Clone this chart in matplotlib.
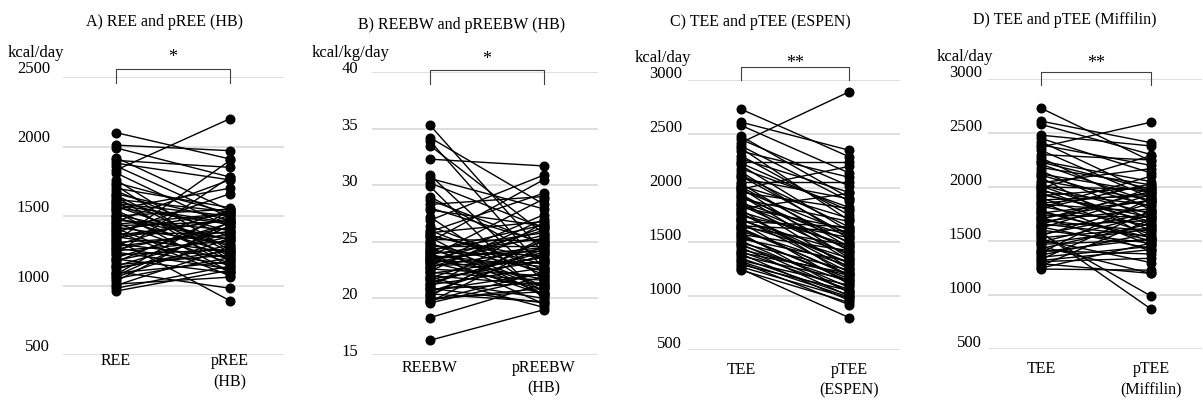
import matplotlib
matplotlib.use("Agg")
import matplotlib.pyplot as plt
from matplotlib.transforms import ScaledTranslation

plt.rcParams['font.family'] = ['Liberation Serif', 'DejaVu Serif']

W, H = 1203, 401

# ---- data (one entry per subject) ----
REE = [2100, 2010, 1990, 1920, 1900, 1880, 1860, 1830, 1810, 1760, 1740, 1720, 1700, 1680,
       1660, 1640, 1620, 1610, 1600, 1590, 1570, 1560, 1550, 1530, 1510, 1500, 1490, 1470,
       1460, 1450, 1430, 1420, 1400, 1390, 1380, 1370, 1350, 1340, 1330, 1310, 1300, 1290,
       1270, 1260, 1250, 1230, 1220, 1200, 1190, 1170, 1150, 1140, 1120, 1100, 1090, 1080,
       1060, 1050, 1030, 1010, 1000, 980, 960, 1320,
       1650, 1580, 1540, 1480, 1440, 1410, 1360, 1280, 1240, 1180, 1130, 1070]
pREE_HB = [1910, 1970, 1780, 1540, 1850, 1760, 1490, 2200, 1420, 1250, 1520, 1180, 1560, 1350,
           1470, 1130, 1530, 1390, 1210, 1500, 1280, 1440, 1700, 1100, 1330, 1550, 1230, 1400,
           1760, 1160, 1460, 1300, 1520, 1070, 1660, 1380, 1240, 1480, 890, 1360, 1200, 1540,
           1150, 1420, 1320, 1780, 1260, 1450, 1090, 1510, 1220, 1380, 1290, 980, 1170, 1540,
           1340, 1200, 1460, 1060, 1270, 1140, 1110, 1900,
           1240, 1450, 1180, 1330, 1520, 1100, 1470, 1390, 1120, 1350, 1250, 1430]

REEBW = [35.3, 34.2, 33.9, 33.5, 32.3, 30.9, 30.6, 30.2, 29.9, 29.0, 28.7, 28.3, 27.2, 26.9,
         26.0, 25.8, 25.6, 25.4, 25.2, 25.0, 24.8, 24.6, 24.4, 24.2, 24.1, 24.0, 23.9, 23.8,
         23.7, 23.6, 23.5, 23.4, 23.3, 23.2, 23.0, 22.8, 22.6, 22.4, 22.2, 22.0, 21.8, 21.6,
         21.4, 21.2, 21.0, 20.8, 20.6, 20.4, 20.2, 20.0, 19.8, 19.7, 19.6, 18.3, 16.3, 25.9,
         24.5, 23.1, 22.9, 21.9, 27.8, 28.0, 26.4, 20.9,
         25.5, 24.9, 24.3, 23.75, 23.45, 22.7, 22.3, 21.7, 21.3, 20.7, 20.3, 19.9]
pREEBW_HB = [24.0, 28.3, 22.6, 25.7, 31.7, 21.5, 27.9, 26.2, 19.9, 23.4, 24.8, 29.0, 20.5, 30.9,
             22.1, 26.8, 23.0, 20.2, 25.1, 30.5, 22.4, 24.6, 21.0, 26.5, 23.8, 19.5, 25.3, 22.8,
             28.8, 24.2, 21.7, 26.0, 23.1, 20.8, 25.6, 24.4, 22.0, 27.0, 23.6, 21.2, 25.0, 20.0,
             24.1, 22.7, 26.7, 21.4, 23.9, 19.7, 25.4, 20.6, 22.3, 24.7, 21.9, 21.3, 19.0, 29.3,
             20.4, 27.4, 23.2, 19.2, 26.4, 24.9, 22.5, 19.6,
             23.5, 21.1, 25.8, 20.3, 24.5, 26.3, 21.6, 23.3, 24.3, 22.2, 25.2, 20.9]

TEE = [2730, 2610, 2580, 2480, 2450, 2420, 2390, 2370, 2340, 2300, 2270, 2240, 2210, 2180,
       2150, 2120, 2090, 2060, 2040, 2020, 2000, 1980, 1960, 1940, 1920, 1900, 1880, 1860,
       1840, 1820, 1800, 1780, 1760, 1740, 1720, 1700, 1690, 1680, 1660, 1640, 1620, 1600,
       1580, 1570, 1550, 1530, 1510, 1490, 1470, 1450, 1430, 1410, 1390, 1370, 1350, 1330,
       1310, 1290, 1270, 1250, 1240, 1990, 1810, 1650,
       2230, 2110, 2010, 1930, 1850, 1770, 1710, 1630, 1560, 1480, 1400, 1320]
pTEE_ESPEN = [2290, 2350, 2140, 1910, 2020, 2890, 1880, 1700, 2100, 1750, 1960, 2240, 1600, 1820,
              1530, 1640, 1900, 2060, 1450, 1720, 1350, 1580, 1810, 1420, 1500, 1690, 1260, 1560,
              1380, 1620, 1180, 1470, 1300, 1540, 1220, 1400, 1640, 1110, 1350, 1470, 1200, 1280,
              1030, 1420, 1160, 1320, 1080, 1240, 1130, 1000, 1190, 1060, 960, 1150, 1010, 1100,
              920, 1050, 980, 800, 940, 2200, 1950, 1600,
              1790, 1560, 1490, 1330, 1440, 1250, 1310, 1190, 1140, 1040, 1210, 990]
pTEE_Miffilin = [2240, 2410, 2300, 2380, 2130, 1940, 2200, 2600, 1900, 2250, 1790, 2050, 1860, 2020,
                 1700, 1950, 1520, 1880, 2170, 1750, 1980, 1600, 1830, 1680, 2000, 1560, 1920, 1460,
                 1770, 1640, 2030, 1500, 1870, 1720, 1410, 1960, 1590, 1800, 1540, 1690, 1930, 1480,
                 870, 990, 1850, 1620, 1300, 1740, 1510, 1200, 1660, 1380, 1900, 1570, 1450, 1780,
                 1340, 1200, 1700, 1480, 1230, 2290, 2100, 1990,
                 1980, 1820, 1650, 1720, 1940, 1530, 1880, 1430, 1760, 1610, 1520, 1420]

titles = ["A) REE and pREE (HB)", "B) REEBW and pREEBW (HB)",
          "C) TEE and pTEE (ESPEN)", "D) TEE and pTEE (Miffilin)"]
units = ["kcal/day", "kcal/kg/day", "kcal/day", "kcal/day"]
cat_left = ["REE", "REEBW", "TEE", "TEE"]
cat_right = ["pREE\n(HB)", "pREEBW\n(HB)", "pTEE\n(ESPEN)", "pTEE\n(Miffilin)"]
yticks = [[500, 1000, 1500, 2000, 2500], [15, 20, 25, 30, 35, 40],
          [500, 1000, 1500, 2000, 2500, 3000], [500, 1000, 1500, 2000, 2500, 3000]]
signif = ["*", "*", "**", "**"]
series = [(REE, pREE_HB), (REEBW, pREEBW_HB), (TEE, pTEE_ESPEN), (TEE, pTEE_Miffilin)]

# panel geometry in pixels: grid left/right, top/bottom tick, left/right point column,
# tick pad + lift, title x/y, unit x/y, bracket top/leg, star y, category top + line spacing
layout = [
    dict(gl=63, gr=284, top=77, bot=355, lp=116, rp=230, pad=13, lift=8, tx=164, ty=22, ux=8, uy=53,
         bt=69, bl=83, sy=58, cy=353, ls=1.45),
    dict(gl=372, gr=598, top=72, bot=355, lp=430, rp=544, pad=14, lift=3, tx=462, ty=25, ux=312, uy=53,
         bt=70, bl=84, sy=60, cy=360, ls=1.35),
    dict(gl=688, gr=900, top=80, bot=350, lp=741, rp=849, pad=6, lift=6, tx=760, ty=22, ux=635, uy=58,
         bt=67, bl=80, sy=64, cy=362, ls=1.35),
    dict(gl=988, gr=1202, top=79, bot=349, lp=1041, rp=1151, pad=6, lift=6, tx=1065, ty=20, ux=937, uy=57,
         bt=72, bl=85, sy=63, cy=361, ls=1.35),
]


def main():
    fig = plt.figure(figsize=(W / 100, H / 100), dpi=100)

    for i, g in enumerate(layout):
        ax = fig.add_axes([g['gl'] / W, 1 - g['bot'] / H, (g['gr'] - g['gl']) / W,
                           (g['bot'] - g['top']) / H])
        span = g['rp'] - g['lp']
        ax.set_xlim((g['gl'] - g['lp']) / span, (g['gr'] - g['lp']) / span)
        ax.set_ylim(yticks[i][0], yticks[i][-1])
        for s in ax.spines.values():
            s.set_visible(False)
        ax.set_xticks([])
        ax.set_yticks(yticks[i])
        ax.set_yticklabels([])
        ax.tick_params(length=0)
        ax.grid(axis='y', color='#d9d9d9', lw=1.2)
        ax.set_axisbelow(True)

        # tick labels sit a little above their grid lines
        tr = ax.get_yaxis_transform() + ScaledTranslation(-g['pad'] / 100, g['lift'] / 100,
                                                          fig.dpi_scale_trans)
        for t in yticks[i]:
            ax.text(0, t, str(t), transform=tr, ha='right', va='center', fontsize=12)

        left, right = series[i]
        for a, b in zip(left, right):
            ax.plot([0, 1], [a, b], color='black', lw=1.0, marker='o', ms=6.2,
                    markerfacecolor='black', markeredgecolor='black', zorder=3)

        def fy(py):
            return (g['bot'] - py) / (g['bot'] - g['top'])

        xt = ax.get_xaxis_transform()
        ax.plot([0, 0, 1, 1], [fy(g['bl']), fy(g['bt']), fy(g['bt']), fy(g['bl'])],
                transform=xt, color='#404040', lw=0.8, clip_on=False)
        ax.text(0.5, fy(g['sy']), signif[i], transform=xt, ha='center', va='center',
                fontsize=13, clip_on=False)

        ax.text(0, fy(g['cy']), cat_left[i], transform=xt, ha='center', va='top',
                fontsize=11.5)
        ax.text(1, fy(g['cy']), cat_right[i], transform=xt, ha='center', va='top',
                fontsize=11.5, linespacing=g['ls'])

        fig.text(g['tx'] / W, 1 - g['ty'] / H, titles[i], ha='center', va='center', fontsize=11.5)
        fig.text(g['ux'] / W, 1 - g['uy'] / H, units[i], ha='left', va='center', fontsize=12)

    fig.savefig('out.png', dpi=100)


if __name__ == '__main__':
    main()
